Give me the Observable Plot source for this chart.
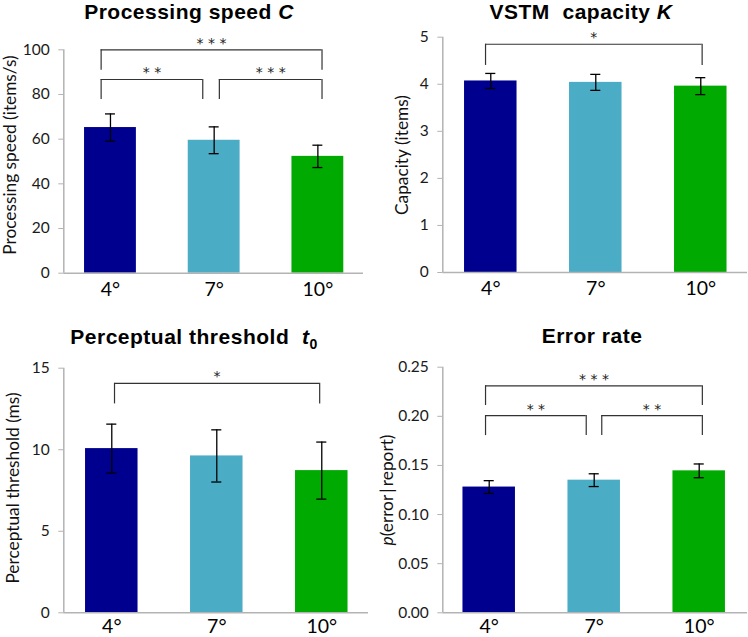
<!DOCTYPE html>
<html><head><meta charset="utf-8">
<script src="https://cdn.jsdelivr.net/npm/d3@7"></script>
<script src="https://cdn.jsdelivr.net/npm/@observablehq/plot@0.6"></script>
<style>
body{margin:0;background:#fff;}
#root{position:relative;width:748px;height:637px;overflow:hidden;font-family:Lato,sans-serif;background:#fff;}
.panel{position:absolute;}
.title{position:absolute;font-family:"Liberation Sans",Arial,sans-serif;font-weight:bold;font-size:21px;line-height:24px;letter-spacing:0.5px;white-space:nowrap;transform:translateX(-50%);color:#000;}
.ylab{position:absolute;font-family:Lato,sans-serif;font-size:17.3px;line-height:18px;white-space:nowrap;transform:translate(-50%,-50%) rotate(-90deg);color:#111;}
</style></head><body><div id="root"></div>
<script>
// ---- data ----
const conditions = ["4°", "7°", "10°"];
const barColors = ["#00008F", "#4BACC6", "#00AA00"];

const speedMean = [65.2, 59.5, 52.3];
const speedSE = [6.1, 6.0, 5.0];
const speedTicks = [0, 20, 40, 60, 80, 100];

const capacityMean = [4.07, 4.04, 3.96];
const capacitySE = [0.16, 0.17, 0.18];
const capacityTicks = [0, 1, 2, 3, 4, 5];

const thresholdMean = [10.07, 9.62, 8.72];
const thresholdSE = [1.5, 1.6, 1.75];
const thresholdTicks = [0, 5, 10, 15];

const errorMean = [0.128, 0.135, 0.1445];
const errorSE = [0.0065, 0.0065, 0.007];
const errorTicks = [0, 0.05, 0.10, 0.15, 0.20, 0.25];

const speedSig = ["***", "**", "***"];
const capacitySig = ["*"];
const thresholdSig = ["*"];
const errorSig = ["***", "**", "**"];

// ---- layout (bracket geometry in data units) ----
const panels = [
  {mean: speedMean, se: speedSE, ticks: speedTicks, fmt: d => d, yDomain: [0, 100],
   left: 0, top: 0, w: 374, h: 318, ml: 63.3, mr: 11, mt: 49.3, mb: 45.3, xDomain: [-0.45, 2.44], xPad: 9,
   sig: speedSig,
   br: [{x1: -0.09, x2: 2.04, y: 100, leg: 90.9}, {x1: -0.09, x2: 0.89, y: 86.7, leg: 77.7}, {x1: 1.05, x2: 2.04, y: 86.7, leg: 77.7}],
   title: "Processing speed <i>C</i>", tx: 189, ty: 0,
   ylab: "Processing speed (items/s)", lx: 10, ly: 155},
  {mean: capacityMean, se: capacitySE, ticks: capacityTicks, fmt: d => d, yDomain: [0, 5],
   left: 374, top: 0, w: 374, h: 318, ml: 68.3, mr: 1, mt: 36.7, mb: 46, xDomain: [-0.457, 2.445], xPad: 9,
   sig: capacitySig,
   br: [{x1: -0.05, x2: 2.013, y: 4.85, leg: 4.40}],
   title: "VSTM&nbsp; capacity <i>K</i>", tx: 581, ty: 0,
   ylab: "Capacity (items)", lx: 402, ly: 154.5},
  {mean: thresholdMean, se: thresholdSE, ticks: thresholdTicks, fmt: d => d, yDomain: [0, 15],
   left: 0, top: 318, w: 374, h: 319, ml: 63.3, mr: 6, mt: 49.7, mb: 24.7, xDomain: [-0.457, 2.445], xPad: 6,
   sig: thresholdSig,
   br: [{x1: 0.026, x2: 1.98, y: 14.07, leg: 12.81}],
   title: "Perceptual threshold&nbsp; <i>t</i><sub style='font-size:14px;font-style:normal;line-height:0'>0</sub>", tx: 194, ty: 325,
   ylab: "Perceptual threshold (ms)", lx: 12.5, ly: 488},
  {mean: errorMean, se: errorSE, ticks: errorTicks, fmt: d3.format(".2f"), yDomain: [0, 0.25],
   left: 374, top: 318, w: 374, h: 319, ml: 68.3, mr: 1, mt: 48.7, mb: 24.7, xDomain: [-0.442, 2.46], xPad: 6,
   sig: errorSig,
   br: [{x1: -0.035, x2: 2.03, y: 0.231, leg: 0.211}, {x1: -0.035, x2: 0.924, y: 0.2008, leg: 0.1804}, {x1: 1.072, x2: 2.03, y: 0.2008, leg: 0.1804}],
   title: "Error rate", tx: 592, ty: 324,
   ylab: "<i>p</i>(error\u2009|\u2009report)", lx: 387, ly: 490}
];

const root = document.getElementById("root");
const axisGray = "#b3b3b3";

for (const p of panels) {
  const rows = conditions.map((c, i) => ({i, cond: c, mean: p.mean[i], se: p.se[i]}));
  const brackets = p.br.map((b, k) => ({...b, label: p.sig[k]}));
  const chart = Plot.plot({
    width: p.w, height: p.h,
    marginLeft: p.ml, marginRight: p.mr, marginTop: p.mt, marginBottom: p.mb,
    x: {domain: p.xDomain},
    y: {domain: p.yDomain},
    color: {domain: conditions, range: barColors},
    style: {fontFamily: "Lato, sans-serif", fontSize: "15.5px", color: "#1a1a1a", background: "transparent", overflow: "visible"},
    marks: [
      Plot.rectY(rows, {x1: d => d.i - 0.25, x2: d => d.i + 0.25, y: "mean", fill: "cond"}),
      Plot.ruleX(rows, {x: "i", y1: d => d.mean - d.se, y2: d => d.mean + d.se, stroke: "#000", strokeWidth: 1.3}),
      Plot.ruleY(rows, {y: d => d.mean + d.se, x1: d => d.i - 0.048, x2: d => d.i + 0.048, stroke: "#000", strokeWidth: 1.3}),
      Plot.ruleY(rows, {y: d => d.mean - d.se, x1: d => d.i - 0.048, x2: d => d.i + 0.048, stroke: "#000", strokeWidth: 1.3}),
      Plot.ruleY(brackets, {y: "y", x1: "x1", x2: "x2", stroke: "#333", strokeWidth: 1.2}),
      Plot.ruleX(brackets, {x: "x1", y1: "leg", y2: "y", stroke: "#333", strokeWidth: 1.2}),
      Plot.ruleX(brackets, {x: "x2", y1: "leg", y2: "y", stroke: "#333", strokeWidth: 1.2}),
      Plot.text(brackets, {x: d => (d.x1 + d.x2) / 2, y: "y", text: d => d.label.split("").join(" "), lineAnchor: "middle", dy: -6.5, fontSize: 14, fontFamily: "DejaVu Sans", fill: "#222"}),
      Plot.ruleX([p.xDomain[0]], {stroke: axisGray, strokeWidth: 1.5}),
      Plot.ruleY([0], {stroke: axisGray, strokeWidth: 1.5}),
      Plot.axisY({ticks: p.ticks, tickFormat: p.fmt, tickSize: 5, tickPadding: 9, stroke: axisGray, fill: "#1a1a1a", label: null}),
      Plot.axisX({ticks: [0, 1, 2], tickFormat: i => conditions[i], tickSize: 0, tickPadding: p.xPad, fontSize: 19.5, fill: "#000", label: null})
    ]
  });
  const div = document.createElement("div");
  div.className = "panel";
  div.style.left = p.left + "px";
  div.style.top = p.top + "px";
  div.appendChild(chart);
  root.appendChild(div);

  const t = document.createElement("div");
  t.className = "title";
  t.innerHTML = p.title;
  t.style.left = p.tx + "px";
  t.style.top = p.ty + "px";
  root.appendChild(t);

  const l = document.createElement("div");
  l.className = "ylab";
  l.innerHTML = p.ylab;
  l.style.left = p.lx + "px";
  l.style.top = p.ly + "px";
  root.appendChild(l);
}
</script></body></html>
